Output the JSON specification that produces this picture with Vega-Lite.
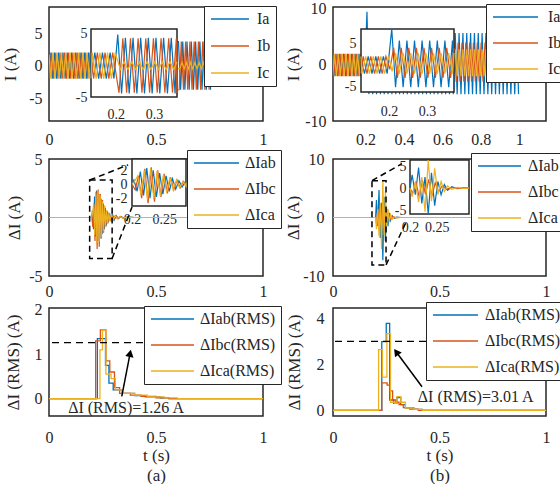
{
"$schema": "https://vega.github.io/schema/vega-lite/v6.json",
"columns": 2,
"align": "each",
"bounds": "full",
"spacing": {"row": 0, "column": 0},
"padding": {"left": 0, "top": 0, "right": 0, "bottom": 0},
"resolve": {"scale": {"color": "independent"}, "legend": {"color": "independent"}},
"datasets": {
"a1": [
{"s":"a","t":0,"v":0},{"s":"a","t":5,"v":2},{"s":"a","t":15,"v":-2},{"s":"a","t":25,"v":2},{"s":"a","t":35,"v":-2},{"s":"a","t":45,"v":2},{"s":"a","t":55,"v":-2},{"s":"a","t":65,"v":2},{"s":"a","t":75,"v":-2},{"s":"a","t":85,"v":2},{"s":"a","t":95,"v":-2},{"s":"a","t":105,"v":2},{"s":"a","t":115,"v":-2},{"s":"a","t":125,"v":2},{"s":"a","t":135,"v":-2},{"s":"a","t":145,"v":2},{"s":"a","t":155,"v":-2},{"s":"a","t":165,"v":2},{"s":"a","t":175,"v":-2},{"s":"a","t":185,"v":2},{"s":"a","t":195,"v":-2},{"s":"a","t":205,"v":4.8},{"s":"a","t":215,"v":-4.3},{"s":"a","t":225,"v":4.3},{"s":"a","t":235,"v":-4.3},{"s":"a","t":245,"v":4.3},{"s":"a","t":255,"v":-4.3},{"s":"a","t":265,"v":4.3},{"s":"a","t":275,"v":-4.3},{"s":"a","t":285,"v":4.3},{"s":"a","t":295,"v":-4.3},{"s":"a","t":305,"v":4.3},{"s":"a","t":315,"v":-4.3},{"s":"a","t":325,"v":4.3},{"s":"a","t":335,"v":-4.3},{"s":"a","t":345,"v":4.3},{"s":"a","t":355,"v":-4.3},{"s":"a","t":365,"v":4.3},{"s":"a","t":605,"v":3.7},{"s":"a","t":615,"v":-3.7},{"s":"a","t":625,"v":3.7},{"s":"a","t":635,"v":-3.7},{"s":"a","t":645,"v":3.7},{"s":"a","t":655,"v":-3.7},{"s":"a","t":665,"v":3.7},{"s":"a","t":675,"v":-3.7},{"s":"a","t":685,"v":3.7},{"s":"a","t":695,"v":-3.7},{"s":"a","t":705,"v":3.7},{"s":"a","t":715,"v":-3.7},{"s":"a","t":725,"v":3.7},{"s":"a","t":735,"v":-3.7},{"s":"a","t":745,"v":3.7},{"s":"a","t":755,"v":-3.7},
{"s":"b","t":0,"v":-1.7},{"s":"b","t":1.7,"v":-2},{"s":"b","t":11.7,"v":2},{"s":"b","t":21.7,"v":-2},{"s":"b","t":31.7,"v":2},{"s":"b","t":41.7,"v":-2},{"s":"b","t":51.7,"v":2},{"s":"b","t":61.7,"v":-2},{"s":"b","t":71.7,"v":2},{"s":"b","t":81.7,"v":-2},{"s":"b","t":91.7,"v":2},{"s":"b","t":101.7,"v":-2},{"s":"b","t":111.7,"v":2},{"s":"b","t":121.7,"v":-2},{"s":"b","t":131.7,"v":2},{"s":"b","t":141.7,"v":-2},{"s":"b","t":151.7,"v":2},{"s":"b","t":161.7,"v":-2},{"s":"b","t":171.7,"v":2},{"s":"b","t":181.7,"v":-2},{"s":"b","t":191.7,"v":2},{"s":"b","t":208.3,"v":-4.2},{"s":"b","t":218.3,"v":4.2},{"s":"b","t":228.3,"v":-4.2},{"s":"b","t":238.3,"v":4.2},{"s":"b","t":248.3,"v":-4.2},{"s":"b","t":258.3,"v":4.2},{"s":"b","t":268.3,"v":-4.2},{"s":"b","t":278.3,"v":4.2},{"s":"b","t":288.3,"v":-4.2},{"s":"b","t":298.3,"v":4.2},{"s":"b","t":308.3,"v":-4.2},{"s":"b","t":318.3,"v":4.2},{"s":"b","t":328.3,"v":-4.2},{"s":"b","t":338.3,"v":4.2},{"s":"b","t":348.3,"v":-4.2},{"s":"b","t":358.3,"v":4.2},{"s":"b","t":368.3,"v":-4.2},{"s":"b","t":608.3,"v":-3.7},{"s":"b","t":618.3,"v":3.7},{"s":"b","t":628.3,"v":-3.7},{"s":"b","t":638.3,"v":3.7},{"s":"b","t":648.3,"v":-3.7},{"s":"b","t":658.3,"v":3.7},{"s":"b","t":668.3,"v":-3.7},{"s":"b","t":678.3,"v":3.7},{"s":"b","t":688.3,"v":-3.7},{"s":"b","t":698.3,"v":3.7},{"s":"b","t":708.3,"v":-3.7},{"s":"b","t":718.3,"v":3.7},{"s":"b","t":728.3,"v":-3.7},{"s":"b","t":738.3,"v":3.7},{"s":"b","t":748.3,"v":-3.7},{"s":"b","t":758.3,"v":3.7},
{"s":"c","t":0,"v":1.7},{"s":"c","t":8.3,"v":-2},{"s":"c","t":18.3,"v":2},{"s":"c","t":28.3,"v":-2},{"s":"c","t":38.3,"v":2},{"s":"c","t":48.3,"v":-2},{"s":"c","t":58.3,"v":2},{"s":"c","t":68.3,"v":-2},{"s":"c","t":78.3,"v":2},{"s":"c","t":88.3,"v":-2},{"s":"c","t":98.3,"v":2},{"s":"c","t":108.3,"v":-2},{"s":"c","t":118.3,"v":2},{"s":"c","t":128.3,"v":-2},{"s":"c","t":138.3,"v":2},{"s":"c","t":148.3,"v":-2},{"s":"c","t":158.3,"v":2},{"s":"c","t":168.3,"v":-2},{"s":"c","t":178.3,"v":2},{"s":"c","t":188.3,"v":-2},{"s":"c","t":198.3,"v":2},{"s":"c","t":211.7,"v":-0.6},{"s":"c","t":221.7,"v":0.6},{"s":"c","t":231.7,"v":-0.6},{"s":"c","t":241.7,"v":0.6},{"s":"c","t":251.7,"v":-0.6},{"s":"c","t":261.7,"v":0.6},{"s":"c","t":271.7,"v":-0.6},{"s":"c","t":281.7,"v":0.6},{"s":"c","t":291.7,"v":-0.6},{"s":"c","t":301.7,"v":0.6},{"s":"c","t":311.7,"v":-0.6},{"s":"c","t":321.7,"v":0.6},{"s":"c","t":331.7,"v":-0.6},{"s":"c","t":341.7,"v":0.6},{"s":"c","t":351.7,"v":-0.6},{"s":"c","t":361.7,"v":0.6},{"s":"c","t":611.7,"v":-0.5},{"s":"c","t":621.7,"v":0.5},{"s":"c","t":631.7,"v":-0.5},{"s":"c","t":641.7,"v":0.5},{"s":"c","t":651.7,"v":-0.5},{"s":"c","t":661.7,"v":0.5},{"s":"c","t":671.7,"v":-0.5},{"s":"c","t":681.7,"v":0.5},{"s":"c","t":691.7,"v":-0.5},{"s":"c","t":701.7,"v":0.5},{"s":"c","t":711.7,"v":-0.5},{"s":"c","t":721.7,"v":0.5},{"s":"c","t":731.7,"v":-0.5},{"s":"c","t":741.7,"v":0.5},{"s":"c","t":751.7,"v":-0.5}
],
"b1": [
{"s":"a","t":25,"v":2},{"s":"a","t":35,"v":-2},{"s":"a","t":45,"v":2},{"s":"a","t":55,"v":-2},{"s":"a","t":65,"v":2},{"s":"a","t":75,"v":-2},{"s":"a","t":85,"v":2},{"s":"a","t":95,"v":-2},{"s":"a","t":105,"v":2},{"s":"a","t":115,"v":-2},{"s":"a","t":125,"v":2},{"s":"a","t":135,"v":-2},{"s":"a","t":145,"v":2},{"s":"a","t":155,"v":-2},{"s":"a","t":165,"v":2},{"s":"a","t":175,"v":-2},{"s":"a","t":185,"v":2},{"s":"a","t":195,"v":-2},{"s":"a","t":207,"v":9.5},{"s":"a","t":217,"v":-5.2},{"s":"a","t":227,"v":5.7},{"s":"a","t":237,"v":-5.2},{"s":"a","t":247,"v":5.7},{"s":"a","t":257,"v":-5.2},{"s":"a","t":267,"v":5.7},{"s":"a","t":277,"v":-5.2},{"s":"a","t":287,"v":5.7},{"s":"a","t":297,"v":-5.2},{"s":"a","t":307,"v":5.7},{"s":"a","t":317,"v":-5.2},{"s":"a","t":327,"v":5.7},{"s":"a","t":337,"v":-5.2},{"s":"a","t":347,"v":5.7},{"s":"a","t":357,"v":-5.2},{"s":"a","t":367,"v":5.7},{"s":"a","t":377,"v":-5.2},{"s":"a","t":387,"v":5.7},{"s":"a","t":397,"v":-5.2},{"s":"a","t":407,"v":5.7},{"s":"a","t":417,"v":-5.2},{"s":"a","t":427,"v":5.7},{"s":"a","t":437,"v":-5.2},{"s":"a","t":447,"v":5.7},{"s":"a","t":457,"v":-5.2},{"s":"a","t":467,"v":5.7},{"s":"a","t":477,"v":-5.2},{"s":"a","t":487,"v":5.7},{"s":"a","t":497,"v":-5.2},{"s":"a","t":507,"v":5.7},{"s":"a","t":517,"v":-5.2},{"s":"a","t":527,"v":5.7},{"s":"a","t":537,"v":-5.2},{"s":"a","t":547,"v":5.7},{"s":"a","t":557,"v":-5.2},{"s":"a","t":567,"v":5.7},{"s":"a","t":577,"v":-5.2},{"s":"a","t":587,"v":5.7},{"s":"a","t":597,"v":-5.2},{"s":"a","t":607,"v":5.7},{"s":"a","t":617,"v":-5.2},{"s":"a","t":627,"v":5.7},{"s":"a","t":637,"v":-5.2},{"s":"a","t":647,"v":5.7},{"s":"a","t":657,"v":-5.2},{"s":"a","t":667,"v":5.7},{"s":"a","t":677,"v":-5.2},{"s":"a","t":687,"v":5.7},{"s":"a","t":697,"v":-5.2},{"s":"a","t":707,"v":5.7},{"s":"a","t":717,"v":-5.2},{"s":"a","t":727,"v":5.7},{"s":"a","t":737,"v":-5.2},{"s":"a","t":747,"v":5.7},{"s":"a","t":757,"v":-5.2},{"s":"a","t":767,"v":5.7},{"s":"a","t":777,"v":-5.2},{"s":"a","t":787,"v":5.7},{"s":"a","t":797,"v":-5.2},{"s":"a","t":807,"v":5.7},{"s":"a","t":817,"v":-5.2},{"s":"a","t":827,"v":5.7},{"s":"a","t":837,"v":-5.2},{"s":"a","t":847,"v":5.7},{"s":"a","t":857,"v":-5.2},{"s":"a","t":867,"v":5.7},{"s":"a","t":877,"v":-5.2},{"s":"a","t":887,"v":5.7},{"s":"a","t":897,"v":-5.2},{"s":"a","t":907,"v":5.7},{"s":"a","t":917,"v":-5.2},{"s":"a","t":927,"v":5.7},{"s":"a","t":937,"v":-5.2},{"s":"a","t":947,"v":5.7},{"s":"a","t":957,"v":-5.2},{"s":"a","t":967,"v":5.7},{"s":"a","t":977,"v":-5.2},{"s":"a","t":987,"v":5.7},{"s":"a","t":997,"v":-5.2},
{"s":"b","t":21.7,"v":-2},{"s":"b","t":31.7,"v":2},{"s":"b","t":41.7,"v":-2},{"s":"b","t":51.7,"v":2},{"s":"b","t":61.7,"v":-2},{"s":"b","t":71.7,"v":2},{"s":"b","t":81.7,"v":-2},{"s":"b","t":91.7,"v":2},{"s":"b","t":101.7,"v":-2},{"s":"b","t":111.7,"v":2},{"s":"b","t":121.7,"v":-2},{"s":"b","t":131.7,"v":2},{"s":"b","t":141.7,"v":-2},{"s":"b","t":151.7,"v":2},{"s":"b","t":161.7,"v":-2},{"s":"b","t":171.7,"v":2},{"s":"b","t":181.7,"v":-2},{"s":"b","t":191.7,"v":2},{"s":"b","t":202,"v":-1},{"s":"b","t":212,"v":4},{"s":"b","t":222,"v":-3},{"s":"b","t":232,"v":4},{"s":"b","t":242,"v":-3},{"s":"b","t":252,"v":4},{"s":"b","t":262,"v":-3},{"s":"b","t":272,"v":4},{"s":"b","t":282,"v":-3},{"s":"b","t":292,"v":4},{"s":"b","t":302,"v":-3},{"s":"b","t":312,"v":4},{"s":"b","t":322,"v":-3},{"s":"b","t":332,"v":4},{"s":"b","t":342,"v":-3},{"s":"b","t":352,"v":4},{"s":"b","t":362,"v":-3},{"s":"b","t":372,"v":4},{"s":"b","t":382,"v":-3},{"s":"b","t":642,"v":4},{"s":"b","t":652,"v":-3},{"s":"b","t":662,"v":4},{"s":"b","t":672,"v":-3},{"s":"b","t":682,"v":4},{"s":"b","t":692,"v":-3},{"s":"b","t":702,"v":4},{"s":"b","t":712,"v":-3},{"s":"b","t":722,"v":4},{"s":"b","t":732,"v":-3},{"s":"b","t":742,"v":4},{"s":"b","t":752,"v":-3},{"s":"b","t":762,"v":4},{"s":"b","t":772,"v":-3},{"s":"b","t":782,"v":4},{"s":"b","t":792,"v":-3},{"s":"b","t":802,"v":4},{"s":"b","t":812,"v":-3},{"s":"b","t":822,"v":4},{"s":"b","t":832,"v":-3},{"s":"b","t":842,"v":4},{"s":"b","t":852,"v":-3},
{"s":"c","t":18.3,"v":2},{"s":"c","t":28.3,"v":-2},{"s":"c","t":38.3,"v":2},{"s":"c","t":48.3,"v":-2},{"s":"c","t":58.3,"v":2},{"s":"c","t":68.3,"v":-2},{"s":"c","t":78.3,"v":2},{"s":"c","t":88.3,"v":-2},{"s":"c","t":98.3,"v":2},{"s":"c","t":108.3,"v":-2},{"s":"c","t":118.3,"v":2},{"s":"c","t":128.3,"v":-2},{"s":"c","t":138.3,"v":2},{"s":"c","t":148.3,"v":-2},{"s":"c","t":158.3,"v":2},{"s":"c","t":168.3,"v":-2},{"s":"c","t":178.3,"v":2},{"s":"c","t":188.3,"v":-2},{"s":"c","t":198.3,"v":2},{"s":"c","t":208,"v":-1.5},{"s":"c","t":217,"v":2.8},{"s":"c","t":227,"v":-2},{"s":"c","t":237,"v":2.8},{"s":"c","t":247,"v":-2},{"s":"c","t":257,"v":2.8},{"s":"c","t":267,"v":-2},{"s":"c","t":277,"v":2.8},{"s":"c","t":287,"v":-2},{"s":"c","t":297,"v":2.8},{"s":"c","t":307,"v":-2},{"s":"c","t":317,"v":2.8},{"s":"c","t":327,"v":-2},{"s":"c","t":337,"v":2.8},{"s":"c","t":347,"v":-2},{"s":"c","t":357,"v":2.8},{"s":"c","t":367,"v":-2},{"s":"c","t":377,"v":2.8},{"s":"c","t":637,"v":-2},{"s":"c","t":647,"v":2.8},{"s":"c","t":657,"v":-2},{"s":"c","t":667,"v":2.8},{"s":"c","t":677,"v":-2},{"s":"c","t":687,"v":2.8},{"s":"c","t":697,"v":-2},{"s":"c","t":707,"v":2.8},{"s":"c","t":717,"v":-2},{"s":"c","t":727,"v":2.8},{"s":"c","t":737,"v":-2},{"s":"c","t":747,"v":2.8},{"s":"c","t":757,"v":-2},{"s":"c","t":767,"v":2.8},{"s":"c","t":777,"v":-2},{"s":"c","t":787,"v":2.8},{"s":"c","t":797,"v":-2},{"s":"c","t":807,"v":2.8},{"s":"c","t":817,"v":-2},{"s":"c","t":827,"v":2.8},{"s":"c","t":837,"v":-2},{"s":"c","t":847,"v":2.8}
],
"a2": [
{"s":"ab","t":0,"v":0},{"s":"ab","t":200,"v":0},{"s":"ab","t":203,"v":0.6},{"s":"ab","t":208,"v":-1.0},{"s":"ab","t":213,"v":1.8},{"s":"ab","t":218,"v":-1.6},{"s":"ab","t":223,"v":2.3},{"s":"ab","t":228,"v":-2.0},{"s":"ab","t":233,"v":2.0},{"s":"ab","t":238,"v":-1.8},{"s":"ab","t":243,"v":1.6},{"s":"ab","t":248,"v":-1.4},{"s":"ab","t":253,"v":1.2},{"s":"ab","t":258,"v":-1.0},{"s":"ab","t":263,"v":0.8},{"s":"ab","t":268,"v":-0.7},{"s":"ab","t":273,"v":0.5},{"s":"ab","t":278,"v":-0.4},{"s":"ab","t":283,"v":0.35},{"s":"ab","t":290,"v":-0.3},{"s":"ab","t":297,"v":0.25},{"s":"ab","t":305,"v":-0.2},{"s":"ab","t":314,"v":0.15},{"s":"ab","t":324,"v":-0.1},{"s":"ab","t":336,"v":0.08},{"s":"ab","t":350,"v":-0.05},{"s":"ab","t":370,"v":0.03},{"s":"ab","t":400,"v":0},{"s":"ab","t":1000,"v":0},
{"s":"bc","t":0,"v":0},{"s":"bc","t":200,"v":0},{"s":"bc","t":205,"v":-0.8},{"s":"bc","t":210,"v":1.2},{"s":"bc","t":215,"v":-2.0},{"s":"bc","t":220,"v":2.2},{"s":"bc","t":225,"v":-2.7},{"s":"bc","t":230,"v":2.4},{"s":"bc","t":235,"v":-2.5},{"s":"bc","t":240,"v":2.0},{"s":"bc","t":245,"v":-1.8},{"s":"bc","t":250,"v":1.5},{"s":"bc","t":255,"v":-1.3},{"s":"bc","t":260,"v":1.0},{"s":"bc","t":265,"v":-0.8},{"s":"bc","t":270,"v":0.6},{"s":"bc","t":275,"v":-0.5},{"s":"bc","t":280,"v":0.4},{"s":"bc","t":286,"v":-0.3},{"s":"bc","t":293,"v":0.25},{"s":"bc","t":301,"v":-0.2},{"s":"bc","t":310,"v":0.15},{"s":"bc","t":320,"v":-0.1},{"s":"bc","t":332,"v":0.08},{"s":"bc","t":346,"v":-0.05},{"s":"bc","t":366,"v":0.03},{"s":"bc","t":400,"v":0},{"s":"bc","t":1000,"v":0},
{"s":"ca","t":0,"v":0},{"s":"ca","t":200,"v":0},{"s":"ca","t":204,"v":0.4},{"s":"ca","t":209,"v":1.2},{"s":"ca","t":214,"v":-1.5},{"s":"ca","t":219,"v":2.0},{"s":"ca","t":224,"v":-2.2},{"s":"ca","t":229,"v":2.3},{"s":"ca","t":234,"v":-2.1},{"s":"ca","t":239,"v":1.9},{"s":"ca","t":244,"v":-1.7},{"s":"ca","t":249,"v":1.4},{"s":"ca","t":254,"v":-1.2},{"s":"ca","t":259,"v":1.0},{"s":"ca","t":264,"v":-0.8},{"s":"ca","t":269,"v":0.6},{"s":"ca","t":274,"v":-0.5},{"s":"ca","t":279,"v":0.4},{"s":"ca","t":285,"v":-0.3},{"s":"ca","t":292,"v":0.25},{"s":"ca","t":300,"v":-0.2},{"s":"ca","t":309,"v":0.15},{"s":"ca","t":319,"v":-0.1},{"s":"ca","t":331,"v":0.08},{"s":"ca","t":345,"v":-0.05},{"s":"ca","t":365,"v":0.03},{"s":"ca","t":400,"v":0},{"s":"ca","t":1000,"v":0}
],
"b2": [
{"s":"ab","t":0,"v":0},{"s":"ab","t":200,"v":0},{"s":"ab","t":204,"v":3.0},{"s":"ab","t":210,"v":-1.5},{"s":"ab","t":216,"v":4.7},{"s":"ab","t":222,"v":-3.5},{"s":"ab","t":228,"v":2.5},{"s":"ab","t":234,"v":-7.3},{"s":"ab","t":240,"v":3.5},{"s":"ab","t":246,"v":-4.0},{"s":"ab","t":252,"v":1.5},{"s":"ab","t":258,"v":-1.5},{"s":"ab","t":264,"v":0.8},{"s":"ab","t":270,"v":-0.5},{"s":"ab","t":278,"v":0.3},{"s":"ab","t":288,"v":-0.15},{"s":"ab","t":300,"v":0.05},{"s":"ab","t":320,"v":0},{"s":"ab","t":1000,"v":0},
{"s":"bc","t":0,"v":0},{"s":"bc","t":200,"v":0},{"s":"bc","t":205,"v":-1.2},{"s":"bc","t":211,"v":1.5},{"s":"bc","t":217,"v":-2.0},{"s":"bc","t":223,"v":1.8},{"s":"bc","t":229,"v":-1.5},{"s":"bc","t":235,"v":2.0},{"s":"bc","t":241,"v":-1.8},{"s":"bc","t":247,"v":1.2},{"s":"bc","t":253,"v":-0.8},{"s":"bc","t":260,"v":0.5},{"s":"bc","t":268,"v":-0.3},{"s":"bc","t":278,"v":0.15},{"s":"bc","t":290,"v":-0.05},{"s":"bc","t":310,"v":0},{"s":"bc","t":1000,"v":0},
{"s":"ca","t":0,"v":0},{"s":"ca","t":200,"v":0},{"s":"ca","t":204,"v":-2.0},{"s":"ca","t":210,"v":1.5},{"s":"ca","t":216,"v":-3.2},{"s":"ca","t":222,"v":2.5},{"s":"ca","t":228,"v":-5.4},{"s":"ca","t":234,"v":6.4},{"s":"ca","t":240,"v":-3.0},{"s":"ca","t":246,"v":4.5},{"s":"ca","t":252,"v":-1.5},{"s":"ca","t":258,"v":1.5},{"s":"ca","t":264,"v":-0.8},{"s":"ca","t":270,"v":0.5},{"s":"ca","t":278,"v":-0.3},{"s":"ca","t":288,"v":0.15},{"s":"ca","t":300,"v":-0.05},{"s":"ca","t":320,"v":0},{"s":"ca","t":1000,"v":0}
],
"a3": [
{"s":"ab","t":0,"v":0},{"s":"ab","t":226,"v":1.35},{"s":"ab","t":264,"v":0.75},{"s":"ab","t":280,"v":0.35},{"s":"ab","t":300,"v":0.2},{"s":"ab","t":340,"v":0.12},{"s":"ab","t":400,"v":0.07},{"s":"ab","t":450,"v":0.04},{"s":"ab","t":520,"v":0.02},{"s":"ab","t":560,"v":0},{"s":"ab","t":1000,"v":0},
{"s":"bc","t":0,"v":0},{"s":"bc","t":218,"v":1.3},{"s":"bc","t":240,"v":1.55},{"s":"bc","t":266,"v":0.85},{"s":"bc","t":284,"v":0.6},{"s":"bc","t":306,"v":0.25},{"s":"bc","t":330,"v":0.12},{"s":"bc","t":380,"v":0.08},{"s":"bc","t":430,"v":0.05},{"s":"bc","t":500,"v":0.02},{"s":"bc","t":560,"v":0},{"s":"bc","t":1000,"v":0},
{"s":"ca","t":0,"v":0},{"s":"ca","t":238,"v":1.1},{"s":"ca","t":250,"v":1.55},{"s":"ca","t":266,"v":0.55},{"s":"ca","t":290,"v":0.45},{"s":"ca","t":310,"v":0.2},{"s":"ca","t":340,"v":0.12},{"s":"ca","t":400,"v":0.08},{"s":"ca","t":460,"v":0.04},{"s":"ca","t":540,"v":0.02},{"s":"ca","t":600,"v":0},{"s":"ca","t":1000,"v":0}
],
"b3": [
{"s":"ab","t":0,"v":0},{"s":"ab","t":229,"v":3.0},{"s":"ab","t":250,"v":3.8},{"s":"ab","t":266,"v":0.45},{"s":"ab","t":285,"v":0.3},{"s":"ab","t":300,"v":0.55},{"s":"ab","t":318,"v":0.25},{"s":"ab","t":340,"v":0.1},{"s":"ab","t":380,"v":0.04},{"s":"ab","t":420,"v":0},{"s":"ab","t":1000,"v":0},
{"s":"bc","t":0,"v":0},{"s":"bc","t":229,"v":1.2},{"s":"bc","t":254,"v":1.1},{"s":"bc","t":268,"v":0.85},{"s":"bc","t":280,"v":0.45},{"s":"bc","t":295,"v":0.35},{"s":"bc","t":310,"v":0.25},{"s":"bc","t":330,"v":0.12},{"s":"bc","t":360,"v":0.05},{"s":"bc","t":400,"v":0},{"s":"bc","t":1000,"v":0},
{"s":"ca","t":0,"v":0},{"s":"ca","t":214,"v":2.65},{"s":"ca","t":232,"v":1.45},{"s":"ca","t":253,"v":3.35},{"s":"ca","t":270,"v":0.35},{"s":"ca","t":290,"v":0.3},{"s":"ca","t":300,"v":0.6},{"s":"ca","t":318,"v":0.35},{"s":"ca","t":340,"v":0.1},{"s":"ca","t":380,"v":0.04},{"s":"ca","t":420,"v":0},{"s":"ca","t":1000,"v":0}
]
},
"concat": [
{
"width": 214, "height": 114,
"layer": [
{"layer": [
{"data": {"name": "a1"}, "mark": {"type": "line", "strokeWidth": 1.2, "clip": true},
"encoding": {
"x": {"field": "t", "type": "quantitative", "scale": {"domain": [0, 1000], "nice": false, "zero": false}, "axis": {"values": [0, 500, 1000], "labelExpr": "datum.value/1000 + ''", "title": null, "labelPadding": 10}},
"y": {"field": "v", "type": "quantitative", "scale": {"domain": [-8.5, 9], "nice": false, "zero": false}, "axis": {"values": [-5, 0, 5], "labelExpr": "datum.value + ''", "title": "I (A)", "labelPadding": 7, "titlePadding": 9}},
"color": {"field": "s", "type": "nominal", "scale": {"domain": ["a", "b", "c"], "range": ["#0072BD", "#D95319", "#EDB120"]}, "legend": {"orient": "none", "legendX": 155, "legendY": -1, "title": null, "labelExpr": "'I' + datum.label", "symbolSize": 144, "symbolType": "M-1,0H5.33", "labelOffset": 32, "rowPadding": 11}}
}}
]},
{"layer": [
{"data": {"values": [{}]}, "mark": {"type": "rect", "fill": "white", "stroke": "#262626", "strokeWidth": 1.5},
"encoding": {
"x": {"datum": 135, "type": "quantitative", "scale": {"domain": [135, 360], "range": [42, 128], "nice": false, "zero": false, "clamp": true}, "axis": {"orient": "bottom", "offset": -24, "values": [200, 300], "labelExpr": "datum.value/1000 + ''", "title": null, "labelFontSize": 14, "labelPadding": 10}},
"x2": {"datum": 360},
"y": {"datum": -4.85, "type": "quantitative", "scale": {"domain": [-4.85, 5.65], "range": [90, 22], "nice": false, "zero": false, "clamp": true}, "axis": {"orient": "left", "offset": -42, "values": [-5, 0, 5], "labelExpr": "datum.value + ''", "title": null, "labelFontSize": 14, "labelPadding": 4}},
"y2": {"datum": 5.65}
}},
{"data": {"name": "a1"}, "transform": [{"filter": "datum.t >= 125 && datum.t <= 370"}], "mark": {"type": "line", "strokeWidth": 1.2},
"encoding": {"x": {"field": "t", "type": "quantitative"}, "y": {"field": "v", "type": "quantitative"}, "color": {"field": "s", "type": "nominal"}}}
]}
],
"resolve": {"scale": {"x": "independent", "y": "independent"}}
},
{
"width": 213, "height": 114,
"layer": [
{"layer": [
{"data": {"name": "b1"}, "mark": {"type": "line", "strokeWidth": 1.2, "clip": true},
"encoding": {
"x": {"field": "t", "type": "quantitative", "scale": {"domain": [30, 1140], "nice": false, "zero": false}, "axis": {"values": [200, 400, 600, 800, 1000], "labelExpr": "datum.value/1000 + ''", "title": null, "labelPadding": 10}},
"y": {"field": "v", "type": "quantitative", "scale": {"domain": [-10, 10.35], "nice": false, "zero": false}, "axis": {"values": [-10, 0, 10], "labelExpr": "datum.value + ''", "title": "I (A)", "labelPadding": 7, "titlePadding": 2}},
"color": {"field": "s", "type": "nominal", "scale": {"domain": ["a", "b", "c"], "range": ["#0072BD", "#D95319", "#EDB120"]}, "legend": {"orient": "none", "legendX": 153, "legendY": -3, "title": null, "labelExpr": "'I' + datum.label", "symbolSize": 144, "symbolType": "M-1,0H6.5", "labelOffset": 41}}
}}
]},
{"layer": [
{"data": {"values": [{}]}, "mark": {"type": "rect", "fill": "white", "stroke": "#262626", "strokeWidth": 1.5},
"encoding": {
"x": {"datum": 126, "type": "quantitative", "scale": {"domain": [126, 371], "range": [28, 121], "nice": false, "zero": false, "clamp": true}, "axis": {"orient": "bottom", "offset": -29, "values": [200, 300], "labelExpr": "datum.value/1000 + ''", "title": null, "labelFontSize": 14, "labelPadding": 12}},
"x2": {"datum": 371},
"y": {"datum": -6.3, "type": "quantitative", "scale": {"domain": [-6.3, 8.4], "range": [85, 22], "nice": false, "zero": false, "clamp": true}, "axis": {"orient": "left", "offset": -28, "values": [-5, 0, 5], "labelExpr": "datum.value + ''", "title": null, "labelFontSize": 14, "labelPadding": 5}},
"y2": {"datum": 8.4}
}},
{"data": {"name": "b1"}, "transform": [{"filter": "datum.t >= 118 && datum.t <= 380"}], "mark": {"type": "line", "strokeWidth": 1.2},
"encoding": {"x": {"field": "t", "type": "quantitative"}, "y": {"field": "v", "type": "quantitative"}, "color": {"field": "s", "type": "nominal"}}}
]}
],
"resolve": {"scale": {"x": "independent", "y": "independent"}}
},
{
"width": 214, "height": 117,
"layer": [
{"layer": [
{"data": {"name": "a2"}, "mark": {"type": "line", "strokeWidth": 1.2, "clip": true},
"encoding": {
"x": {"field": "t", "type": "quantitative", "scale": {"domain": [0, 1000], "nice": false, "zero": false}, "axis": {"values": [0, 500, 1000], "labelExpr": "datum.value/1000 + ''", "title": null, "labelPadding": 7}},
"y": {"field": "v", "type": "quantitative", "scale": {"domain": [-5, 5], "nice": false, "zero": false}, "axis": {"values": [-5, 0, 5], "labelExpr": "datum.value + ''", "title": "ΔI (A)", "labelPadding": 7, "titlePadding": 5}},
"color": {"field": "s", "type": "nominal", "scale": {"domain": ["ab", "bc", "ca"], "range": ["#0072BD", "#D95319", "#EDB120"]}, "legend": {"orient": "none", "legendX": 138, "legendY": -9, "title": null, "labelExpr": "'ΔI' + datum.label", "symbolSize": 144, "symbolType": "M-1,0H6.5", "labelOffset": 37}}
}},
{"data": {"values": [{}]}, "mark": {"type": "rect", "fillOpacity": 0, "stroke": "#000000", "strokeWidth": 1.5, "strokeDash": [6, 4]},
"encoding": {"x": {"datum": 190}, "x2": {"datum": 295}, "y": {"datum": -3.5}, "y2": {"datum": 3.2}}},
{"data": {"values": [{}]}, "mark": {"type": "rule", "stroke": "#000000", "strokeWidth": 1.5, "strokeDash": [6, 4]},
"encoding": {"x": {"datum": 190}, "x2": {"datum": 370}, "y": {"datum": 3.2}, "y2": {"datum": 4.5}}},
{"data": {"values": [{}]}, "mark": {"type": "rule", "stroke": "#000000", "strokeWidth": 1.5, "strokeDash": [6, 4]},
"encoding": {"x": {"datum": 295}, "x2": {"datum": 388}, "y": {"datum": -3.5}, "y2": {"datum": 0.9}}}
]},
{"layer": [
{"data": {"values": [{}]}, "mark": {"type": "rect", "fill": "white", "stroke": "#262626", "strokeWidth": 1.5},
"encoding": {
"x": {"datum": 200, "type": "quantitative", "scale": {"domain": [200, 284], "range": [83, 137], "nice": false, "zero": false, "clamp": true}, "axis": {"orient": "bottom", "offset": -70, "values": [200, 250], "labelExpr": "datum.value/1000 + ''", "title": null, "labelFontSize": 14, "labelPadding": 6}},
"x2": {"datum": 284},
"y": {"datum": -3.1, "type": "quantitative", "scale": {"domain": [-3.1, 3.6], "range": [47, 0], "nice": false, "zero": false, "clamp": true}, "axis": {"orient": "left", "offset": -83, "values": [-2, 0, 2], "labelExpr": "datum.value + ''", "title": null, "labelFontSize": 14, "labelPadding": 5}},
"y2": {"datum": 3.6}
}},
{"data": {"name": "a2"}, "transform": [{"filter": "datum.t >= 195 && datum.t <= 292"}], "mark": {"type": "line", "strokeWidth": 1.2},
"encoding": {"x": {"field": "t", "type": "quantitative"}, "y": {"field": "v", "type": "quantitative"}, "color": {"field": "s", "type": "nominal"}}}
]}
],
"resolve": {"scale": {"x": "independent", "y": "independent"}}
},
{
"width": 213, "height": 117,
"layer": [
{"layer": [
{"data": {"name": "b2"}, "mark": {"type": "line", "strokeWidth": 1.2, "clip": true},
"encoding": {
"x": {"field": "t", "type": "quantitative", "scale": {"domain": [0, 1000], "nice": false, "zero": false}, "axis": {"values": [0, 500, 1000], "labelExpr": "datum.value/1000 + ''", "title": null, "labelPadding": 7}},
"y": {"field": "v", "type": "quantitative", "scale": {"domain": [-10, 10], "nice": false, "zero": false}, "axis": {"values": [-10, 0, 10], "labelExpr": "datum.value + ''", "title": "ΔI (A)", "labelPadding": 9, "titlePadding": 0}},
"color": {"field": "s", "type": "nominal", "scale": {"domain": ["ab", "bc", "ca"], "range": ["#0072BD", "#D95319", "#EDB120"]}, "legend": {"orient": "none", "legendX": 138, "legendY": -6, "title": null, "labelExpr": "'ΔI' + datum.label", "symbolSize": 144, "symbolType": "M-1,0H6.17", "labelOffset": 36}}
}},
{"data": {"values": [{}]}, "mark": {"type": "rect", "fillOpacity": 0, "stroke": "#000000", "strokeWidth": 1.5, "strokeDash": [6, 4]},
"encoding": {"x": {"datum": 183}, "x2": {"datum": 249}, "y": {"datum": -8.1}, "y2": {"datum": 6.3}}},
{"data": {"values": [{}]}, "mark": {"type": "rule", "stroke": "#000000", "strokeWidth": 1.5, "strokeDash": [6, 4]},
"encoding": {"x": {"datum": 183}, "x2": {"datum": 324}, "y": {"datum": 6.3}, "y2": {"datum": 9.2}}},
{"data": {"values": [{}]}, "mark": {"type": "rule", "stroke": "#000000", "strokeWidth": 1.5, "strokeDash": [6, 4]},
"encoding": {"x": {"datum": 249}, "x2": {"datum": 347}, "y": {"datum": -8.1}, "y2": {"datum": -0.5}}}
]},
{"layer": [
{"data": {"values": [{}]}, "mark": {"type": "rect", "fill": "white", "stroke": "#262626", "strokeWidth": 1.5},
"encoding": {
"x": {"datum": 200, "type": "quantitative", "scale": {"domain": [200, 310], "range": [77, 136], "nice": false, "zero": false, "clamp": true}, "axis": {"orient": "bottom", "offset": -62, "values": [200, 250], "labelExpr": "datum.value/1000 + ''", "title": null, "labelFontSize": 14, "labelPadding": 6}},
"x2": {"datum": 310},
"y": {"datum": -5.9, "type": "quantitative", "scale": {"domain": [-5.9, 6.4], "range": [55, 1], "nice": false, "zero": false, "clamp": true}, "axis": {"orient": "left", "offset": -77, "values": [-5, 0, 5], "labelExpr": "datum.value + ''", "title": null, "labelFontSize": 14, "labelPadding": 4}},
"y2": {"datum": 6.4}
}},
{"data": {"name": "b2"}, "transform": [{"filter": "datum.t >= 195 && datum.t <= 320"}], "mark": {"type": "line", "strokeWidth": 1.2},
"encoding": {"x": {"field": "t", "type": "quantitative"}, "y": {"field": "v", "type": "quantitative"}, "color": {"field": "s", "type": "nominal"}}}
]}
],
"resolve": {"scale": {"x": "independent", "y": "independent"}}
},
{
"width": 214, "height": 108,
"layer": [
{"data": {"name": "a3"}, "mark": {"type": "line", "strokeWidth": 1.3, "interpolate": "step-after", "clip": true},
"encoding": {
"x": {"field": "t", "type": "quantitative", "scale": {"domain": [0, 1000], "nice": false, "zero": false}, "axis": {"values": [0, 500, 1000], "labelExpr": "datum.value/1000 + ''", "title": ["t (s)", "(a)"], "titleLineHeight": 20, "titlePadding": 2, "labelPadding": 13}},
"y": {"field": "v", "type": "quantitative", "scale": {"domain": [-0.39, 2.04], "nice": false, "zero": false}, "axis": {"values": [0, 1, 2], "labelExpr": "datum.value + ''", "title": "ΔI (RMS) (A)", "labelPadding": 7, "titlePadding": 12}},
"color": {"field": "s", "type": "nominal", "scale": {"domain": ["ab", "bc", "ca"], "range": ["#0072BD", "#D95319", "#EDB120"]}, "legend": {"orient": "none", "legendX": 95, "legendY": -2, "title": null, "labelExpr": "'ΔI' + datum.label + '(RMS)'", "symbolSize": 144, "symbolType": "M-1,0H6.17", "labelOffset": 35}}
}},
{"data": {"values": [{}]}, "mark": {"type": "rule", "stroke": "#000000", "strokeWidth": 1.3, "strokeDash": [7, 5]},
"encoding": {"y": {"datum": 1.26}}},
{"data": {"values": [{}]}, "mark": {"type": "rule", "stroke": "#000000", "strokeWidth": 1.5},
"encoding": {"x": {"datum": 340}, "x2": {"datum": 379}, "y": {"datum": 0.05}, "y2": {"datum": 1.02}}},
{"data": {"values": [{}]}, "mark": {"type": "point", "shape": "triangle-up", "filled": true, "size": 70, "angle": 11, "color": "#000000", "opacity": 1},
"encoding": {"x": {"datum": 379}, "y": {"datum": 1.02}}},
{"data": {"values": [{}]}, "mark": {"type": "text", "font": "Liberation Serif", "fontSize": 16, "color": "#262626"},
"encoding": {"x": {"datum": 360}, "y": {"datum": -0.2}, "text": {"value": "ΔI (RMS)=1.26 A"}}}
]
},
{
"width": 213, "height": 108,
"layer": [
{"data": {"name": "b3"}, "mark": {"type": "line", "strokeWidth": 1.3, "interpolate": "step-after", "clip": true},
"encoding": {
"x": {"field": "t", "type": "quantitative", "scale": {"domain": [0, 1000], "nice": false, "zero": false}, "axis": {"values": [0, 500, 1000], "labelExpr": "datum.value/1000 + ''", "title": ["t (s)", "(b)"], "titleLineHeight": 20, "titlePadding": 2, "labelPadding": 13}},
"y": {"field": "v", "type": "quantitative", "scale": {"domain": [-0.25, 4.47], "nice": false, "zero": false}, "axis": {"values": [0, 2, 4], "labelExpr": "datum.value + ''", "title": "ΔI (RMS) (A)", "labelPadding": 9, "titlePadding": 13}},
"color": {"field": "s", "type": "nominal", "scale": {"domain": ["ab", "bc", "ca"], "range": ["#0072BD", "#D95319", "#EDB120"]}, "legend": {"orient": "none", "legendX": 93, "legendY": -6, "title": null, "labelExpr": "'ΔI' + datum.label + '(RMS)'", "symbolSize": 144, "symbolType": "M-1,0H6.5", "labelOffset": 38}}
}},
{"data": {"values": [{}]}, "mark": {"type": "rule", "stroke": "#000000", "strokeWidth": 1.3, "strokeDash": [7, 5]},
"encoding": {"y": {"datum": 3.01}}},
{"data": {"values": [{}]}, "mark": {"type": "rule", "stroke": "#000000", "strokeWidth": 1.5},
"encoding": {"x": {"datum": 418}, "x2": {"datum": 297}, "y": {"datum": 1.03}, "y2": {"datum": 2.55}}},
{"data": {"values": [{}]}, "mark": {"type": "point", "shape": "triangle-up", "filled": true, "size": 70, "angle": 324, "color": "#000000", "opacity": 1},
"encoding": {"x": {"datum": 297}, "y": {"datum": 2.55}}},
{"data": {"values": [{}]}, "mark": {"type": "text", "font": "Liberation Serif", "fontSize": 16, "color": "#262626"},
"encoding": {"x": {"datum": 670}, "y": {"datum": 0.6}, "text": {"value": "ΔI (RMS)=3.01 A"}}}
]
}
],
"config": {
"font": "Liberation Serif",
"view": {"stroke": "#262626", "strokeWidth": 1.5},
"axis": {"domain": false, "ticks": false, "grid": false, "labelFont": "Liberation Serif", "labelFontSize": 16, "labelColor": "#262626", "titleFont": "Liberation Serif", "titleFontSize": 17, "titleFontWeight": "normal", "titleColor": "#262626", "labelFlush": false, "labelOverlap": false},
"legend": {"labelFont": "Liberation Serif", "labelFontSize": 16, "labelColor": "#262626", "fillColor": "white", "strokeColor": "#262626", "padding": 5, "rowPadding": 10, "symbolStrokeWidth": 1.5}
}
}
